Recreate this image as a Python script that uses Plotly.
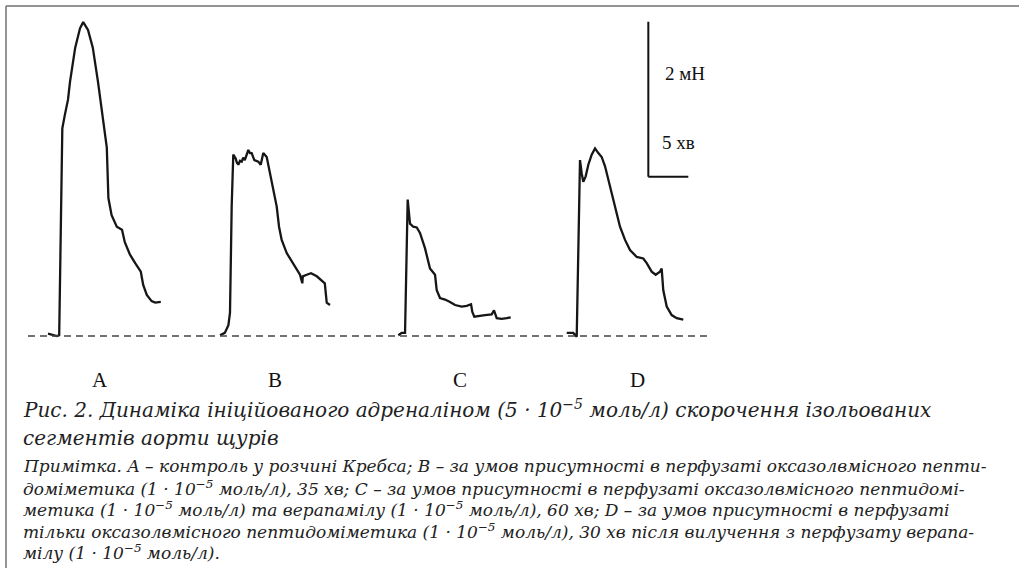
import plotly.graph_objects as go

# ---- data: isometric tension (mN) vs time (min) for four recordings ----
A_T = [0, 1.1, 1.4, 1.56, 1.79, 2.1, 2.5, 2.75, 3.4, 4.0, 4.4, 5.0, 5.6, 6.25, 6.9, 7.35, 7.55, 7.95, 8.6, 9.25,
       9.6, 10.25, 10.9, 11.6, 11.9, 12.35, 12.95, 13.4, 14.1]
A_F = [0.03, 0.0, 0.01, 1.11, 2.68, 2.85, 3.05, 3.28, 3.72, 3.97, 4.05, 3.95, 3.72, 3.28, 2.76, 2.43, 1.78, 1.56, 1.41, 1.37,
       1.21, 1.05, 0.94, 0.83, 0.66, 0.53, 0.45, 0.43, 0.44]

B_T = [0, 0.6, 1.05, 1.25, 1.46, 1.66, 1.96, 2.1, 2.29, 2.5, 2.71, 2.9, 3.1, 3.3, 3.54, 3.75, 3.96, 4.29, 4.79, 5.09,
       5.41, 5.84, 6.25, 6.66, 7.09, 7.38, 7.71, 8.34, 9.1, 9.7, 10.0, 10.29, 10.35, 10.84, 11.38, 12.1, 12.7, 13.1, 13.34, 13.75]
B_F = [0.01, 0.04, 0.14, 0.30, 1.67, 2.34, 2.29, 2.24, 2.21, 2.26, 2.25, 2.30, 2.27, 2.33, 2.40, 2.36, 2.36, 2.27, 2.25, 2.21,
       2.36, 2.31, 2.10, 1.88, 1.67, 1.41, 1.24, 1.07, 0.94, 0.85, 0.79, 0.68, 0.77, 0.79, 0.81, 0.77, 0.72, 0.68, 0.43, 0.40]

C_T = [0.04, 0.46, 0.88, 1.09, 1.21, 1.5, 1.91, 2.34, 2.75, 3.38, 4.0, 4.63, 4.84, 5.25, 5.88, 6.5, 7.13, 7.96, 8.59, 9.13,
       9.29, 9.54, 10.04, 10.88, 11.71, 12.0, 12.34, 12.96, 13.59, 14.09]
C_F = [0.01, 0.04, 0.04, 1.02, 1.76, 1.45, 1.41, 1.40, 1.33, 1.13, 0.87, 0.79, 0.59, 0.49, 0.47, 0.44, 0.40, 0.38, 0.39, 0.41,
       0.31, 0.25, 0.26, 0.27, 0.28, 0.33, 0.23, 0.22, 0.23, 0.24]

D_T = [0.09, 0.91, 1.34, 1.54, 1.75, 1.96, 2.16, 2.46, 2.79, 3.21, 3.63, 4.04, 4.46, 4.88, 5.5, 6.13, 6.75, 7.38, 8.0, 8.84,
       9.66, 10.09, 10.71, 11.21, 11.75, 11.96, 12.16, 12.59, 13.21, 13.84, 14.66]
D_F = [0.04, 0.04, -0.01, 1.24, 2.27, 2.10, 1.99, 2.06, 2.21, 2.34, 2.42, 2.36, 2.31, 2.19, 1.93, 1.67, 1.41, 1.24, 1.11, 1.02,
       1.00, 0.94, 0.83, 0.79, 0.83, 0.87, 0.59, 0.38, 0.27, 0.23, 0.21]

LABELS = ["A", "B", "C", "D"]
SCALE_FORCE = 2   # mN
SCALE_TIME = 5    # min

TITLE_1 = "Рис. 2. Динаміка ініційованого адреналіном (5 · 10<sup>−5</sup> моль/л) скорочення ізольованих"
TITLE_2 = "сегментів аорти щурів"
NOTES = [
    "Примітка. A – контроль у розчині Кребса; B – за умов присутності в перфузаті оксазолвмісного пепти-",
    "доміметика (1 · 10<sup>−5</sup> моль/л), 35 хв; C – за умов присутності в перфузаті оксазолвмісного пептидомі-",
    "метика (1 · 10<sup>−5</sup> моль/л) та верапамілу (1 · 10<sup>−5</sup> моль/л), 60 хв; D – за умов присутності в перфузаті",
    "тільки оксазолвмісного пептидоміметика (1 · 10<sup>−5</sup> моль/л), 30 хв після вилучення з перфузату верапа-",
    "мілу (1 · 10<sup>−5</sup> моль/л).",
]

# ---- layout constants ----
W, H = 1019, 568
PX_PER_MIN = 8.0
PX_PER_MN = 77.5
BASE_PY = 336
OFFSETS = [6.0, 27.5, 49.75, 70.75]          # start of each recording on the sheet (min)
LABEL_PX = [100, 275, 460, 637]
TRACE_COLOR = "#161616"

fig = go.Figure()
for (t, f), off in zip([(A_T, A_F), (B_T, B_F), (C_T, C_F), (D_T, D_F)], OFFSETS):
    assert len(t) == len(f)
    fig.add_trace(go.Scatter(x=[v + off for v in t], y=f, mode="lines",
                             line=dict(color=TRACE_COLOR, width=2.3), hoverinfo="skip",
                             showlegend=False))

xmax = W / PX_PER_MIN
ymax = BASE_PY / PX_PER_MN
ymin = (BASE_PY - H) / PX_PER_MN

shapes = []
# dashed baseline (zero tension)
shapes.append(dict(type="line", xref="x", yref="y", x0=3.5, x1=88.5, y0=0, y1=0,
                   line=dict(color="#444", width=1.6, dash="7px,5px")))
# scale bar
sx, sy = 81.04, 2.055
shapes.append(dict(type="line", xref="x", yref="y", x0=sx, x1=sx, y0=sy, y1=sy + SCALE_FORCE,
                   line=dict(color="#111", width=2)))
shapes.append(dict(type="line", xref="x", yref="y", x0=sx, x1=sx + SCALE_TIME, y0=sy, y1=sy,
                   line=dict(color="#111", width=2)))
# frame (top and left)
shapes.append(dict(type="line", xref="paper", yref="paper", x0=6 / W, x1=1, y0=1 - 6 / H, y1=1 - 6 / H,
                   line=dict(color="#707070", width=1.5)))
shapes.append(dict(type="line", xref="paper", yref="paper", x0=6 / W, x1=6 / W, y0=1 - 6 / H, y1=0,
                   line=dict(color="#707070", width=1.5)))

def px(x):
    return x / W

def py(y):
    return 1 - y / H

ann = []
serif = "Liberation Serif"
ann.append(dict(x=px(663), y=py(73), text=f"{SCALE_FORCE} мН", xanchor="left", yanchor="middle",
                font=dict(family=serif, size=19, color="#111")))
ann.append(dict(x=px(660), y=py(142), text=f"{SCALE_TIME} хв", xanchor="left", yanchor="middle",
                font=dict(family=serif, size=19, color="#111")))
for lab, lx in zip(LABELS, LABEL_PX):
    ann.append(dict(x=px(lx), y=py(380), text=lab, xanchor="center", yanchor="middle",
                    font=dict(family=serif, size=21, color="#111")))

cap_font = "DejaVu Serif"
ann.append(dict(x=px(21), y=py(409), text=TITLE_1, xanchor="left", yanchor="middle",
                font=dict(family=cap_font, size=20, color="#222", style="italic")))
ann.append(dict(x=px(21), y=py(438), text=TITLE_2, xanchor="left", yanchor="middle",
                font=dict(family=cap_font, size=20, color="#222", style="italic")))
for i, line in enumerate(NOTES):
    ann.append(dict(x=px(21), y=py(466 + i * 21.5), text=line, xanchor="left", yanchor="middle",
                    font=dict(family=cap_font, size=17, color="#222", style="italic")))

for a in ann:
    a.update(xref="paper", yref="paper", showarrow=False)

fig.update_layout(
    width=W, height=H, autosize=False,
    margin=dict(l=0, r=0, t=0, b=0, pad=0),
    paper_bgcolor="white", plot_bgcolor="white",
    xaxis=dict(range=[0, xmax], visible=False, fixedrange=True),
    yaxis=dict(range=[ymin, ymax], visible=False, fixedrange=True),
    shapes=shapes, annotations=ann,
)

fig.write_html("out.html", config={"displayModeBar": False},
               post_script="document.body.style.margin='0';document.body.style.overflow='hidden';")
